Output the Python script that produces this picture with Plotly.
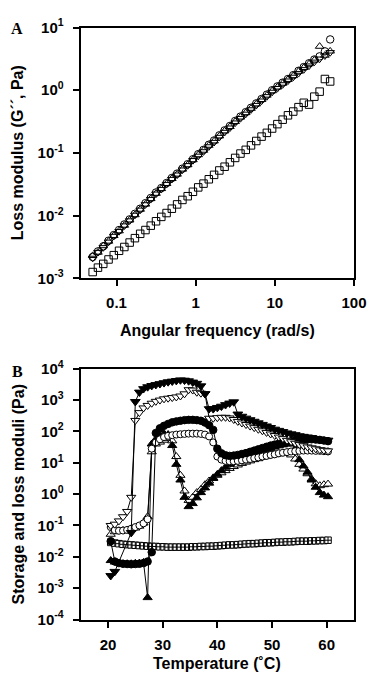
import plotly.graph_objects as go

# ---------------- Panel A data ----------------
freq_a = [0.05, 0.0583, 0.068, 0.0793, 0.0924, 0.1077, 0.1256, 0.1465, 0.1708, 0.1991,
          0.2321, 0.2707, 0.3156, 0.368, 0.4291, 0.5, 0.583, 0.68, 0.793, 0.924,
          1.077, 1.256, 1.465, 1.708, 1.991, 2.321, 2.707, 3.156, 3.68, 4.291,
          5.0, 5.83, 6.8, 7.93, 9.24, 10.77, 12.56, 14.65, 17.08, 19.91,
          23.21, 27.07, 31.56, 36.8, 42.91, 50.0]

loss_circle = [0.00219, 0.00269, 0.00324, 0.00398, 0.0049, 0.00589, 0.00724, 0.00871, 0.0107, 0.0129,
               0.0158, 0.0191, 0.0234, 0.0275, 0.0331, 0.0398, 0.0468, 0.0562, 0.0661, 0.0794,
               0.0955, 0.112, 0.135, 0.158, 0.191, 0.229, 0.269, 0.324, 0.38, 0.447,
               0.525, 0.617, 0.724, 0.851, 1.0, 1.15, 1.32, 1.51, 1.74, 2.04,
               2.34, 2.69, 3.09, 3.47, 4.17, 6.46]
loss_tri_up = [0.0023, 0.0026, 0.0033, 0.0039, 0.0048, 0.0057, 0.007, 0.0085, 0.0103, 0.0126,
               0.0152, 0.0186, 0.0226, 0.0269, 0.0324, 0.0389, 0.0457, 0.055, 0.0646, 0.0776,
               0.0933, 0.11, 0.132, 0.155, 0.186, 0.224, 0.263, 0.316, 0.372, 0.437,
               0.513, 0.603, 0.708, 0.832, 0.977, 1.12, 1.29, 1.48, 1.7, 2.0,
               2.29, 2.63, 3.02, 5.0, 3.6, 4.2]
loss_tri_down = [0.0021, 0.0026, 0.0031, 0.0038, 0.0047, 0.0056, 0.0069, 0.0083, 0.0102, 0.0123,
                 0.015, 0.0182, 0.0222, 0.0263, 0.0316, 0.038, 0.0447, 0.0537, 0.0631, 0.0759,
                 0.0891, 0.105, 0.126, 0.148, 0.178, 0.214, 0.251, 0.302, 0.355, 0.417,
                 0.49, 0.575, 0.676, 0.794, 0.933, 1.07, 1.23, 1.41, 1.62, 1.86,
                 2.14, 2.45, 2.82, 3.16, 3.55, 4.0]
loss_square = [0.00126, 0.00148, 0.0017, 0.002, 0.00234, 0.00275, 0.00316, 0.00372, 0.00437, 0.00513,
               0.00589, 0.00692, 0.00813, 0.00955, 0.011, 0.0129, 0.0151, 0.0178, 0.0204, 0.024,
               0.0282, 0.0324, 0.038, 0.0447, 0.0525, 0.0603, 0.0708, 0.0832, 0.0977, 0.112,
               0.132, 0.155, 0.182, 0.209, 0.245, 0.288, 0.339, 0.398, 0.457, 0.537,
               0.631, 0.59, 0.79, 0.95, 1.51, 1.38]

freq_ticks = [0.1, 1, 10, 100]
freq_ticktext = ["0.1", "1", "10", "100"]
loss_ticks = [1e-3, 1e-2, 1e-1, 1, 10]
loss_ticktext = ["-3", "-2", "-1", "0", "1"]

# ---------------- Panel B data ----------------
temps_b = [20.5, 21.25, 22.0, 22.75, 23.5, 24.25, 25.0, 25.75, 26.5, 27.25,
           28.0, 28.75, 29.5, 30.25, 31.0, 31.75, 32.5, 33.25, 34.0, 34.75,
           35.5, 36.25, 37.0, 37.75, 38.5, 39.25, 40.0, 40.75, 41.5, 42.25,
           43.0, 43.75, 44.5, 45.25, 46.0, 46.75, 47.5, 48.25, 49.0, 49.75,
           50.5, 51.25, 52.0, 52.75, 53.5, 54.25, 55.0, 55.75, 56.5, 57.25,
           58.0, 58.75, 59.5, 60.25]

mod_tri_down_filled = [0.0025, 0.0034, None, None, None, 0.059, 891, 1778, 2291, 2630,
                       2884, 3090, 3311, 3548, 3802, 3981, 4169, 4365, 4266, 4074,
                       3715, 3388, 2818, 1585, 525, 525, 575, 631, 708, 794,
                       871, 355, 302, 263, 234, 209, 186, 166, 148, 132,
                       117, 107, 98, 89, 83, 78, 72, 69, 66, 63,
                       59, 56, 54, 52]
mod_tri_down_open = [0.1, 0.11, 0.14, 0.19, 0.28, 0.79, 224, 398, 562, 676,
                     794, 912, 1000, 1096, 1148, 1202, 1259, 1349, 1585, 2138,
                     2089, 1778, 1660, 1585, 263, 263, 275, 282, 282, 269,
                     240, 209, 186, 166, 148, 132, 117, 105, 93, 83,
                     74, 66, 59, 52, 47, 42, 38, 35, 32, 30,
                     28, 26, 25, 24]
mod_circle_filled = [0.0316, 0.0071, 0.0063, 0.006, 0.0059, 0.0058, 0.0059, 0.006, 0.0063, 0.0071,
                     0.0141, 89, 126, 151, 174, 195, 209, 219, 229, 234,
                     234, 229, 219, 191, 158, 112, 28.2, 20.0, 17.4, 16.6,
                     17.0, 17.8, 19.1, 20.4, 22.4, 24.5, 26.9, 29.5, 32.4, 35.5,
                     38.0, 40.7, 43.7, 46.8, 49.0, 51.3, 53.7, 55.0, 56.2, 56.2,
                     55.0, 53.7, 51.3, 49.0]
mod_circle_open = [0.089, 0.071, 0.068, 0.069, 0.072, 0.079, 0.089, 0.1, 0.117, 0.158,
                   28.2, 44.7, 56.2, 66.1, 72.4, 75.9, 79.4, 81.3, 83.2, 85.1,
                   85.1, 85.1, 83.2, 79.4, 69.2, 44.7, 15.8, 12.6, 11.5, 11.2,
                   11.2, 11.5, 12.0, 12.6, 13.2, 14.1, 14.8, 15.8, 16.6, 17.8,
                   18.6, 20.0, 20.9, 21.9, 22.9, 23.4, 24.0, 24.5, 24.5, 24.5,
                   24.0, 24.0, 23.4, 22.9]
mod_tri_up_filled = [0.0076, 0.0068, 0.0063, 0.006, 0.006, 0.006, 0.0062, 0.0063, 0.0066, 0.0005,
                     39.8, 56.2, 72.4, 85.1, 79.4, 35.5, 8.91, 2.82, 0.79, 0.4,
                     0.5, 0.76, 1.12, 1.58, 2.24, 3.16, 4.27, 5.62, 7.24, 8.91,
                     10.5, 12.0, 13.5, 15.1, 17.0, 19.1, 21.4, 24.0, 26.3, 28.8,
                     31.6, 34.7, 37.2, 39.8, 39.8, 28.2, 12.6, 7.94, 5.01, 2.82,
                     1.66, 1.12, 0.93, 0.83]
mod_tri_up_open = [0.0525, 0.0631, 0.0676, 0.0692, 0.0708, 0.0759, 0.0832, 0.0955, 0.12, 0.191,
                   22.4, 39.8, 45.7, 52.5, 60.3, 50.1, 15.8, 3.98, 1.26, 0.631,
                   0.794, 1.12, 1.41, 2.0, 2.63, 3.31, 3.98, 4.79, 5.62, 6.61,
                   7.59, 8.51, 9.55, 10.5, 11.5, 12.6, 13.5, 14.8, 15.8, 17.0,
                   18.2, 19.5, 20.4, 20.0, 17.8, 13.2, 8.91, 6.31, 4.47, 3.02,
                   2.14, 1.86, 2.0, 2.09]
mod_square = [0.0288, 0.0275, 0.0263, 0.0251, 0.0245, 0.024, 0.0234, 0.0229, 0.0224, 0.0219,
              0.0214, 0.0214, 0.0209, 0.0209, 0.0204, 0.0204, 0.0204, 0.0204, 0.0204, 0.0204,
              0.0209, 0.0209, 0.0214, 0.0214, 0.0219, 0.0219, 0.0224, 0.0229, 0.0234, 0.024,
              0.024, 0.0245, 0.0251, 0.0257, 0.0263, 0.0263, 0.0269, 0.0275, 0.0282, 0.0282,
              0.0288, 0.0295, 0.0295, 0.0302, 0.0302, 0.0309, 0.0316, 0.0316, 0.0316, 0.0324,
              0.0324, 0.0331, 0.0331, 0.0339]

temp_ticks = [20, 30, 40, 50, 60]
mod_ticks = [1e-4, 1e-3, 1e-2, 1e-1, 1, 10, 100, 1e3, 1e4]
mod_ticktext = ["-4", "-3", "-2", "-1", "0", "1", "2", "3", "4"]

# ---------------- Figure ----------------
W, H = 381, 681
FONT = "Liberation Sans, Arial, Helvetica, sans-serif"

def px_x(a, b):
    return [a / W, b / W]

def px_y(top, bottom):
    return [1 - bottom / H, 1 - top / H]

fig = go.Figure()

# Panel A (markers only)
for vals, sym in [(loss_square, "square-open"), (loss_tri_down, "triangle-down-open"),
                  (loss_tri_up, "triangle-up-open"), (loss_circle, "circle-open")]:
    fig.add_trace(go.Scatter(x=freq_a, y=vals, mode="markers", xaxis="x", yaxis="y",
                             marker=dict(symbol=sym, size=7.5, color="black",
                                         line=dict(width=1, color="black")),
                             showlegend=False, hoverinfo="skip"))

# Panel B (markers + lines)
def add_b(vals, sym, filled, size=8):
    fig.add_trace(go.Scatter(
        x=temps_b, y=vals, mode="lines+markers", xaxis="x2", yaxis="y2",
        connectgaps=True,
        line=dict(color="black", width=1),
        marker=dict(symbol=sym, size=size, color="black" if filled else "white",
                    line=dict(width=1, color="black")),
        showlegend=False, hoverinfo="skip"))

add_b(mod_square, "square-cross", False, 6.5)
add_b(mod_tri_up_open, "triangle-up", False, 8)
add_b(mod_tri_up_filled, "triangle-up", True, 8)
add_b(mod_circle_open, "circle", False, 7)
add_b(mod_circle_filled, "circle", True, 7.5)
add_b(mod_tri_down_open, "triangle-down", False, 8)
add_b(mod_tri_down_filled, "triangle-down", True, 8.5)

axis_common = dict(showline=True, linecolor="black", linewidth=2, mirror=True,
                   ticks="outside", ticklen=6, tickwidth=1.5, tickcolor="black",
                   showgrid=False, zeroline=False,
                   tickfont=dict(family=FONT, size=15, color="black"))

xdom = px_x(83.5, 366.5)

fig.update_layout(
    width=W, height=H,
    margin=dict(l=0, r=0, t=0, b=0),
    paper_bgcolor="white", plot_bgcolor="white",
    font=dict(family=FONT, color="black"),
    xaxis=dict(type="log", range=[-1.453, 2.0], domain=xdom, anchor="y",
               tickvals=freq_ticks, ticktext=["<b>%s</b>" % t for t in freq_ticktext],
               ticklabelstandoff=4, **axis_common),
    yaxis=dict(type="log", range=[-3, 1], domain=px_y(17, 275), anchor="x",
               tickvals=loss_ticks,
               ticktext=["<b>10<sup>%s</sup></b>" % t for t in loss_ticktext],
               ticklabelstandoff=6, **axis_common),
    xaxis2=dict(type="linear", range=[15, 65], domain=xdom, anchor="y2",
                tickvals=temp_ticks, ticktext=["<b>%d</b>" % t for t in temp_ticks],
                ticklabelstandoff=4, **axis_common),
    yaxis2=dict(type="log", range=[-4, 4], domain=px_y(368, 626), anchor="x2",
                tickvals=mod_ticks,
                ticktext=["<b>10<sup>%s</sup></b>" % t for t in mod_ticktext],
                ticklabelstandoff=6, **axis_common),
)

def ann(text, x, y, size=16, angle=0, family=FONT):
    fig.add_annotation(text=text, x=x / W, y=1 - y / H, xref="paper", yref="paper",
                       showarrow=False, textangle=angle, xanchor="center", yanchor="middle",
                       font=dict(family=family, size=size, color="black"))

ann("<b>Angular frequency (rad/s)</b>", 225, 329)
ann("<b>Loss modulus (G´´, Pa)</b>", 19, 146, angle=-90)
ann("<b>Temperature (˚C)</b>", 225, 671)
ann("<b>Storage and loss moduli (Pa)</b>", 19, 497, angle=-90)
ann("<b>A</b>", 18, 18, size=16, family="Liberation Serif, Times New Roman, serif")
ann("<b>B</b>", 18, 371, size=16, family="Liberation Serif, Times New Roman, serif")

fig.write_html("out.html")
